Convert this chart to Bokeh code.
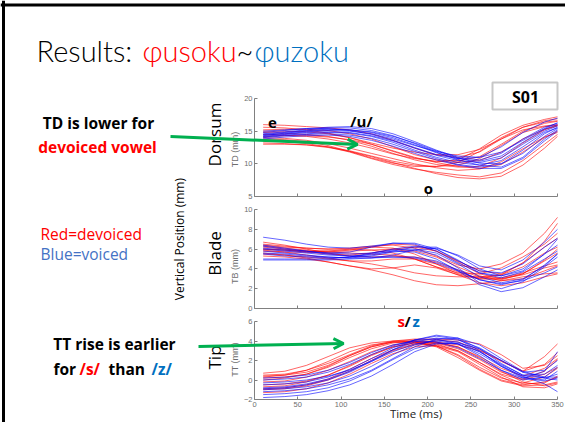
from math import pi
from bokeh.plotting import figure
from bokeh.models import (Range1d, LinearAxis, FixedTicker, Label, Arrow, OpenHead,
                          BoxAnnotation, Span)
from bokeh.embed import file_html
from bokeh.resources import INLINE

# ---------------- data ----------------
T = [10, 35, 60, 85, 110, 135, 160, 185, 210, 235, 260, 285, 310, 335, 350]
TIME_TICKS = [0, 50, 100, 150, 200, 250, 300, 350]
DORSUM_TICKS = [5, 10, 15, 20]
BLADE_TICKS = [0, 2, 4, 6, 8, 10]
TIP_TICKS = [-2, 0, 2, 4, 6]

DORSUM_RED = [
    [16.0, 15.9, 15.7, 15.5, 15.2, 14.6, 13.6, 12.4, 11.4, 11.0, 11.8, 13.8, 15.6, 16.6, 16.9],
    [15.0, 15.0, 14.9, 14.6, 14.0, 13.0, 11.9, 10.9, 10.3, 10.6, 12.3, 14.4, 15.9, 16.8, 17.2],
    [14.5, 14.4, 14.2, 13.8, 13.2, 12.4, 11.5, 10.8, 10.4, 10.2, 10.5, 11.8, 13.8, 15.3, 15.8],
    [14.0, 13.9, 13.6, 13.1, 12.4, 11.6, 10.8, 10.0, 9.4, 9.0, 9.2, 10.3, 12.3, 14.1, 14.8],
    [13.5, 13.4, 13.1, 12.6, 11.8, 10.8, 9.9, 9.2, 8.7, 8.3, 8.0, 8.6, 10.5, 13.0, 14.5],
    [13.2, 13.1, 12.9, 12.5, 11.9, 11.1, 10.2, 9.3, 8.5, 7.9, 7.7, 8.1, 9.8, 12.4, 14.2],
    [15.2, 15.3, 15.3, 15.1, 14.6, 13.8, 12.6, 11.4, 10.6, 10.4, 11.1, 13.0, 15.0, 16.2, 16.5],
    [14.2, 14.3, 14.3, 14.1, 13.7, 13.0, 12.0, 11.0, 10.2, 9.6, 9.3, 9.9, 11.8, 14.0, 15.0],
    [13.8, 13.7, 13.4, 12.8, 11.9, 10.9, 10.1, 9.6, 9.6, 10.2, 11.9, 14.0, 15.6, 16.4, 16.6],
    [15.6, 15.5, 15.2, 14.7, 14.0, 13.2, 12.4, 11.8, 11.4, 11.4, 12.2, 13.8, 15.2, 15.8, 16.0],
    [14.8, 14.7, 14.5, 14.2, 13.6, 12.7, 11.6, 10.6, 9.9, 9.5, 9.6, 10.9, 13.2, 15.2, 15.9],
    [13.0, 13.0, 12.9, 12.6, 12.0, 11.2, 10.4, 9.8, 9.6, 9.8, 10.8, 12.8, 14.8, 15.7, 15.9],
]
DORSUM_BLUE = [
    [14.8, 15.1, 15.4, 15.6, 15.7, 15.4, 14.6, 13.4, 12.1, 11.0, 10.6, 11.6, 13.8, 15.6, 16.2],
    [14.5, 14.8, 15.1, 15.3, 15.2, 14.8, 14.0, 12.9, 11.7, 10.8, 10.4, 11.2, 13.3, 15.3, 16.0],
    [14.2, 14.5, 14.8, 14.9, 14.8, 14.3, 13.5, 12.4, 11.3, 10.5, 10.2, 10.9, 13.0, 15.0, 15.8],
    [14.0, 14.3, 14.5, 14.6, 14.4, 13.9, 13.0, 11.9, 10.8, 9.9, 9.5, 10.0, 12.1, 14.6, 15.6],
    [14.6, 14.9, 15.2, 15.5, 15.5, 15.1, 14.3, 13.1, 11.8, 10.6, 9.8, 9.5, 11.0, 13.8, 15.2],
    [13.8, 14.1, 14.3, 14.4, 14.2, 13.6, 12.7, 11.6, 10.6, 9.8, 9.3, 9.3, 10.8, 13.5, 15.0],
    [15.0, 15.2, 15.4, 15.4, 15.1, 14.5, 13.6, 12.5, 11.4, 10.8, 11.0, 12.6, 14.8, 16.4, 17.0],
    [14.4, 14.6, 14.9, 15.1, 15.0, 14.6, 13.8, 12.8, 11.9, 11.2, 11.0, 11.8, 13.6, 15.4, 16.3],
    [14.1, 14.4, 14.6, 14.8, 14.7, 14.2, 13.3, 12.1, 11.0, 10.2, 9.8, 10.5, 12.6, 14.8, 15.5],
    [14.3, 14.7, 15.0, 15.2, 15.2, 14.9, 14.2, 13.2, 12.0, 10.9, 10.1, 10.0, 11.6, 14.2, 15.4],
]
BLADE_RED = [
    [6.5, 6.3, 6.1, 6.0, 6.1, 6.3, 6.4, 6.1, 5.3, 4.4, 4.0, 4.5, 5.6, 7.6, 9.2],
    [6.2, 6.0, 5.8, 5.7, 5.9, 6.2, 6.5, 6.4, 5.8, 4.8, 3.8, 3.5, 4.6, 6.8, 8.6],
    [5.9, 5.7, 5.4, 5.1, 4.8, 4.5, 4.1, 3.6, 3.3, 3.2, 3.2, 3.4, 4.2, 5.6, 6.2],
    [5.6, 5.4, 5.1, 4.7, 4.3, 3.9, 3.4, 2.8, 2.4, 2.3, 2.5, 2.8, 3.2, 3.5, 3.6],
    [6.0, 5.9, 5.8, 5.7, 5.6, 5.5, 5.4, 5.0, 4.2, 3.4, 3.0, 3.1, 3.6, 4.3, 4.7],
    [6.7, 6.4, 6.0, 5.6, 5.3, 5.2, 5.3, 5.2, 4.7, 3.9, 3.2, 3.0, 3.4, 4.1, 4.4],
    [5.3, 5.2, 5.0, 4.7, 4.3, 4.0, 4.1, 4.4, 4.1, 3.4, 2.6, 2.3, 2.6, 3.2, 3.5],
    [6.3, 6.1, 5.9, 5.8, 5.8, 5.9, 6.0, 5.8, 5.2, 4.2, 3.3, 2.8, 3.0, 3.8, 4.3],
    [5.8, 5.7, 5.7, 5.8, 6.0, 6.2, 6.1, 5.5, 4.5, 3.5, 3.1, 3.4, 4.6, 6.2, 7.1],
    [6.4, 6.2, 6.1, 6.0, 6.0, 5.9, 5.6, 5.0, 4.2, 3.6, 3.5, 4.1, 5.2, 6.5, 7.6],
    [6.0, 5.9, 5.7, 5.5, 5.4, 5.6, 6.0, 6.2, 5.8, 4.7, 3.5, 3.0, 3.5, 4.8, 5.6],
    [5.5, 5.4, 5.2, 5.0, 4.8, 4.8, 5.0, 5.0, 4.5, 3.7, 3.0, 2.9, 3.5, 4.9, 6.0],
]
BLADE_BLUE = [
    [7.2, 6.9, 6.5, 6.2, 6.1, 6.3, 6.6, 6.6, 6.0, 4.8, 3.8, 3.6, 4.5, 6.2, 7.1],
    [6.1, 5.9, 5.7, 5.6, 5.7, 6.2, 6.6, 6.5, 5.8, 4.6, 3.6, 3.3, 4.0, 5.5, 6.4],
    [5.8, 5.6, 5.4, 5.2, 5.1, 5.3, 5.7, 5.9, 5.4, 4.1, 2.6, 2.0, 2.7, 4.2, 5.2],
    [5.0, 5.0, 5.0, 5.0, 5.2, 5.5, 5.8, 5.7, 5.0, 3.8, 2.4, 1.7, 2.1, 3.2, 3.9],
    [5.5, 5.3, 5.2, 5.1, 5.2, 5.6, 6.0, 6.3, 6.0, 4.9, 3.6, 3.1, 3.7, 5.0, 5.8],
    [4.9, 4.9, 4.9, 4.9, 5.0, 5.1, 5.2, 5.1, 4.6, 3.8, 2.9, 2.5, 2.8, 3.6, 4.2],
    [6.4, 6.1, 5.8, 5.5, 5.3, 5.4, 5.8, 6.2, 6.2, 5.3, 4.0, 3.3, 3.8, 5.5, 7.0],
    [6.0, 5.8, 5.6, 5.4, 5.3, 5.2, 5.2, 5.2, 4.8, 3.9, 2.9, 2.4, 2.9, 4.4, 5.5],
    [5.6, 5.5, 5.3, 5.2, 5.1, 5.1, 5.4, 5.9, 6.1, 5.4, 4.3, 3.9, 4.9, 6.7, 8.0],
    [6.3, 6.0, 5.8, 5.6, 5.5, 5.6, 5.9, 6.0, 5.6, 4.5, 3.2, 2.6, 3.0, 4.3, 5.5],
]
TIP_RED = [
    [0.7, 0.9, 1.5, 2.4, 3.3, 3.8, 4.0, 4.1, 4.1, 3.9, 3.1, 1.9, 0.9, 2.4, 3.7],
    [0.2, 0.3, 0.6, 1.3, 2.3, 3.2, 3.8, 4.0, 3.9, 3.4, 2.4, 1.2, 0.4, 1.2, 2.2],
    [-0.2, -0.1, 0.3, 1.0, 1.9, 2.9, 3.6, 3.9, 3.7, 3.0, 1.8, 0.6, 0.0, 0.6, 1.3],
    [-0.5, -0.4, -0.1, 0.5, 1.4, 2.5, 3.4, 3.8, 3.5, 2.5, 1.1, 0.0, -0.5, -0.2, 0.3],
    [0.0, 0.2, 0.6, 1.4, 2.5, 3.4, 3.9, 3.9, 3.4, 2.3, 1.0, -0.1, -0.6, -0.5, -0.2],
    [-1.0, -0.9, -0.6, 0.0, 0.9, 2.0, 3.0, 3.6, 3.6, 3.0, 1.8, 0.5, -0.4, -0.3, 0.4],
    [-1.3, -1.2, -0.9, -0.3, 0.6, 1.7, 2.7, 3.4, 3.5, 2.9, 1.6, 0.3, -0.7, -0.8, -0.4],
    [0.3, 0.5, 1.0, 1.9, 2.9, 3.6, 3.9, 4.0, 3.8, 3.2, 2.1, 0.8, 0.1, 0.9, 2.1],
    [-0.7, -0.6, -0.2, 0.5, 1.5, 2.6, 3.4, 3.8, 3.9, 3.6, 3.0, 2.0, 0.9, 1.6, 2.8],
    [0.5, 0.6, 1.0, 1.7, 2.6, 3.5, 4.0, 4.2, 4.2, 4.1, 3.7, 2.6, 1.2, 1.5, 2.5],
    [-0.9, -0.8, -0.5, 0.1, 1.1, 2.2, 3.1, 3.7, 3.8, 3.4, 2.3, 0.9, -0.2, -0.6, -0.3],
    [0.4, 0.5, 0.8, 1.5, 2.5, 3.4, 3.9, 3.9, 3.5, 2.6, 1.3, 0.2, -0.3, 0.3, 1.2],
]
TIP_BLUE = [
    [-1.8, -1.7, -1.5, -1.1, -0.5, 0.4, 1.6, 2.9, 3.7, 3.8, 3.2, 2.0, 0.8, 0.2, 0.0],
    [-1.2, -1.1, -0.9, -0.5, 0.1, 1.0, 2.2, 3.4, 4.2, 4.3, 3.6, 2.2, 0.9, 0.3, 0.3],
    [-0.9, -0.8, -0.5, 0.0, 0.8, 1.9, 3.1, 4.1, 4.6, 4.3, 3.2, 1.7, 0.5, 0.2, 0.6],
    [-0.5, -0.4, -0.2, 0.3, 1.1, 2.2, 3.3, 4.1, 4.5, 4.2, 3.0, 1.4, 0.2, -0.1, 0.2],
    [0.0, 0.1, 0.3, 0.8, 1.6, 2.6, 3.5, 4.1, 4.2, 3.7, 2.5, 1.0, 0.0, 0.3, 1.3],
    [-1.5, -1.4, -1.2, -0.8, -0.1, 0.9, 2.1, 3.2, 3.8, 3.7, 2.9, 1.6, 0.5, 0.6, 1.5],
    [0.2, 0.3, 0.5, 1.0, 1.8, 2.8, 3.6, 4.0, 3.9, 3.3, 2.2, 1.0, 0.2, 0.9, 2.9],
    [-0.3, -0.2, 0.0, 0.4, 1.0, 1.9, 2.9, 3.7, 4.0, 3.7, 2.7, 1.4, 0.4, -0.4, -1.2],
    [-0.8, -0.7, -0.4, 0.1, 0.9, 2.0, 3.1, 3.9, 4.3, 4.1, 3.3, 2.0, 0.8, 1.0, 2.0],
    [-1.0, -0.9, -0.7, -0.3, 0.4, 1.4, 2.6, 3.6, 4.1, 3.9, 2.9, 1.5, 0.3, 0.0, 0.9],
]

# ---------------- layout (slide pixel coordinates) ----------------
W, H = 565, 422
OFF = 0


def lin(p, pa, va, pb, vb):
    return va + (p - pa) * (vb - va) / (pb - pa)


TX = (254, 0, 557, 350)          # pixel of t=0, pixel of t=350
PANELS = {
    "dorsum": (98, 20, 196, 5),
    "blade": (209, 10, 308, 0),
    "tip": (321, 6, 399, -2),
}

p = figure(width=W, height=H,
           x_range=Range1d(lin(OFF, *TX), lin(OFF + W, *TX)),
           y_range=Range1d(OFF + H, OFF),
           x_axis_type=None, y_axis_type=None,
           toolbar_location=None, output_backend="svg", min_border=0)
p.extra_x_ranges = {"px": Range1d(OFF, OFF + W)}
p.extra_y_ranges = {k: Range1d(lin(OFF + H, *v), lin(OFF, *v)) for k, v in PANELS.items()}
p.outline_line_color = None
p.background_fill_color = "white"
p.border_fill_color = "white"

RED = "#ff0000"
BLUE = "#0000ff"
GRAY = "#808080"

for name, reds, blues in [("dorsum", DORSUM_RED, DORSUM_BLUE),
                          ("blade", BLADE_RED, BLADE_BLUE),
                          ("tip", TIP_RED, TIP_BLUE)]:
    p.multi_line(xs=[T] * len(reds), ys=reds, y_range_name=name,
                 line_color=RED, line_alpha=0.6, line_width=1)
    p.multi_line(xs=[T] * len(blues), ys=blues, y_range_name=name,
                 line_color=BLUE, line_alpha=0.6, line_width=1)

TICKS = {"dorsum": DORSUM_TICKS, "blade": BLADE_TICKS, "tip": TIP_TICKS}


def style_axis(ax, show_labels=True):
    ax.major_tick_in = 3
    ax.major_tick_out = 0
    ax.minor_tick_line_color = None
    ax.axis_line_color = GRAY
    ax.major_tick_line_color = GRAY
    ax.major_label_text_color = "#6e6e6e"
    ax.major_label_text_alpha = 1 if show_labels else 0
    ax.major_label_text_font = "Liberation Sans"
    ax.major_label_text_font_size = "7.5px"
    ax.major_label_standoff = 2


for name, ticks in TICKS.items():
    yax = LinearAxis(y_range_name=name, fixed_location=0,
                     bounds=(min(ticks), max(ticks)),
                     ticker=FixedTicker(ticks=ticks, minor_ticks=[]))
    style_axis(yax)
    p.add_layout(yax, "left")
    xax = LinearAxis(y_range_name=name, fixed_location=min(ticks),
                     bounds=(min(TIME_TICKS), max(TIME_TICKS)),
                     ticker=FixedTicker(ticks=TIME_TICKS, minor_ticks=[]))
    style_axis(xax, show_labels=(name == "tip"))
    p.add_layout(xax, "below")


def lab(text, x, y, size, color="black", bold=False, align="left",
        baseline="middle", angle=0.0, font="Open Sans"):
    p.add_layout(Label(x=x, y=y, x_range_name="px", text=text, text_font=font,
                       text_font_size=f"{size}px", text_color=color,
                       text_font_style="bold" if bold else "normal",
                       text_align=align, text_baseline=baseline, angle=angle))


# slide frame
p.add_layout(Span(location=3, dimension="height", x_range_name="px",
                  line_color="black", line_width=3))
p.add_layout(Span(location=4.5, dimension="width",
                  line_color="black", line_width=3))

# title
TBLUE = "#0070c0"
TF = "Lato Light"
lab("Results:", 36, 50, 29, baseline="alphabetic", font=TF)
lab("ɸusoku", 142, 50, 29, RED, baseline="alphabetic", font=TF)
lab("~", 236, 50, 29, baseline="alphabetic", font=TF)
lab("ɸuzoku", 254, 50, 29, TBLUE, baseline="alphabetic", font=TF)

# left notes
lab("TD is lower for", 98, 122, 15.5, bold=True, align="center")
lab("devoiced vowel", 97, 146, 15.5, RED, bold=True, align="center")
lab("Red=devoiced", 40, 233, 15.5, RED)
lab("Blue=voiced", 40, 253, 15.5, "#4472c4")
lab("TT rise is earlier", 114, 343, 15.5, bold=True, align="center")
lab("for", 53, 368, 15.5, bold=True)
lab("/s/", 79, 368, 15.5, RED, bold=True)
lab("than", 108, 368, 15.5, bold=True)
lab("/z/", 151, 368, 15.5, TBLUE, bold=True)

# axis titles
lab("Vertical  Position (mm)", 179, 237, 12, angle=pi / 2, align="center")
lab("Dorsum", 214, 134, 17, angle=pi / 2, align="center")
lab("Blade", 214, 253, 17, angle=pi / 2, align="center")
lab("Tip", 214, 357, 17, angle=pi / 2, align="center")
lab("TD (mm)", 234, 149, 9, "#6e6e6e", angle=pi / 2, align="center", font="Liberation Sans")
lab("TB (mm)", 234, 266, 9, "#6e6e6e", angle=pi / 2, align="center", font="Liberation Sans")
lab("TT (mm)", 234, 359, 9, "#6e6e6e", angle=pi / 2, align="center", font="Liberation Sans")
lab("Time  (ms)", 417, 413, 11.5, "#222222", align="center")

# in-plot annotations
lab("e", 272, 122, 15, bold=True, align="center")
lab("/u/", 361, 120, 15, bold=True, align="center")
lab("o", 428, 187, 15, bold=True, align="center")
lab("s", 397, 320, 15, RED, bold=True)
lab("/", 404, 320, 15, bold=True)
lab("z", 412, 320, 15, TBLUE, bold=True)

# S01 box
p.add_layout(BoxAnnotation(left=492, right=557, top=82, bottom=109, x_range_name="px",
                           fill_color="white", fill_alpha=1.0,
                           line_color="#444444", line_width=2))
lab("S01", 525, 96, 16, bold=True, align="center")

# green arrows
GREEN = "#00b050"
for xs, ys, xe, ye in [(170, 136, 357, 144), (198, 346, 343, 343)]:
    p.add_layout(Arrow(x_start=xs, y_start=ys, x_end=xe, y_end=ye, x_range_name="px",
                       line_color=GREEN, line_width=3,
                       end=OpenHead(size=10, line_color=GREEN, line_width=3)))

open("out.html", "w").write(file_html(p, INLINE))
